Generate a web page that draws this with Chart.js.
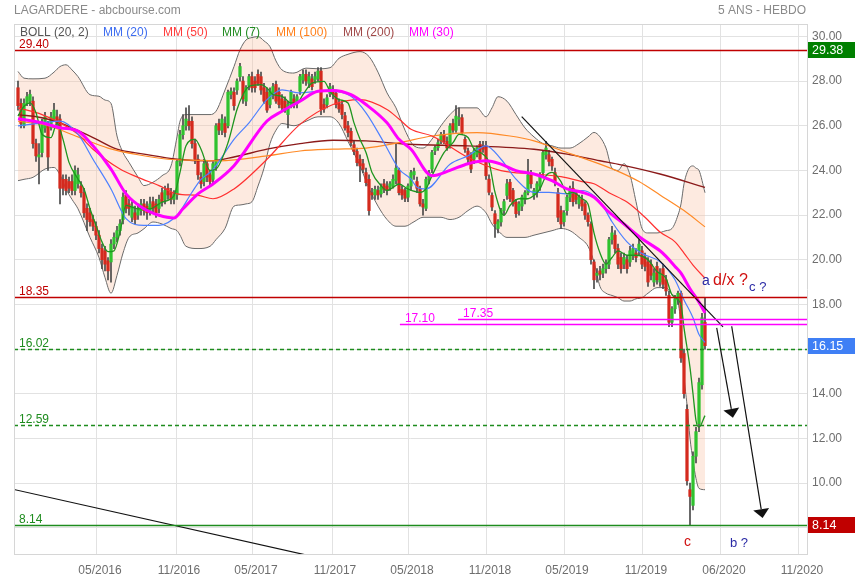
<!DOCTYPE html>
<html><head><meta charset="utf-8">
<script src="https://cdn.jsdelivr.net/npm/chart.js@4.4.0/dist/chart.umd.min.js"></script>
<style>html,body{margin:0;padding:0;background:#fff;overflow:hidden}canvas{display:block}</style>
</head><body>
<canvas id="c" width="855" height="580"></canvas>
<script>
// ---------- DATA (weekly candles, index 0 = first week shown) ----------
const xTickPos = [26.33, 52.67, 78.33, 104.67, 130.33, 156.33, 182, 208.33, 234.33, 260.33];
const xTickLabels = ['05/2016','11/2016','05/2017','11/2017','05/2018','11/2018','05/2019','11/2019','06/2020','11/2020'];
const yTickValues = [8,10,12,14,16,18,20,22,24,26,28,30];

const opens = [
27.7,27.0,26.0,27.0,27.1,27.1,25.2,24.6,24.8,25.9,
26.0,25.9,26.3,26.4,26.3,23.6,23.6,23.5,23.5,23.1,
23.4,23.3,23.0,22.3,22.1,21.8,21.5,21.1,20.5,20.4,
19.95,19.9,20.7,21.0,21.3,21.8,22.9,22.5,21.9,22.1,
22.0,22.2,22.5,22.4,22.2,22.6,22.5,22.3,23.0,22.7,
23.2,23.0,22.7,22.9,24.4,25.6,26.0,26.2,26.2,25.2,
24.5,23.7,23.5,24.3,23.8,23.6,24.2,26.1,25.8,26.1,
26.0,27.4,27.5,27.6,28.2,28.0,27.1,27.8,28.2,28.0,
28.3,28.2,27.7,27.5,26.95,27.4,27.85,27.5,27.2,27.1,
26.5,26.95,27.2,27.0,27.55,28.05,28.3,27.9,28.1,28.05,
28.1,28.45,26.95,26.95,27.45,27.6,27.45,27.0,26.95,26.45,
26.0,25.75,25.15,24.85,24.5,24.3,23.9,23.6,23.0,22.9,
23.1,22.95,23.4,23.3,23.25,23.3,23.55,24.0,23.15,23.1,
22.8,23.3,23.8,23.5,23.17,22.5,22.3,23.6,24.06,24.87,
25.02,25.3,25.6,25.3,25.2,26.1,25.8,26.3,26.36,25.39,
24.87,24.72,24.5,24.72,25.17,25.1,25.1,23.61,22.88,22.06,
21.4,21.69,22.21,22.88,23.47,23.1,22.58,22.2,22.4,22.7,
23.0,23.8,22.9,23.0,23.3,23.9,24.7,24.7,24.5,23.9,
23.0,22.2,21.7,22.2,22.8,23.2,23.0,22.5,22.7,22.5,
22.0,21.6,19.9,19.3,19.5,19.4,19.6,19.8,20.9,21.1,
20.5,20.1,19.8,20.0,19.9,20.2,20.3,20.4,20.4,20.1,
19.9,19.8,19.0,19.7,19.0,19.6,19.1,18.4,17.2,17.8,
18.2,18.5,15.8,13.3,9.7,9.0,11.2,12.65,14.4,17.2];

const highs = [
28.0,27.2,27.2,27.5,27.6,27.3,25.4,25.2,26.3,26.6,
26.2,26.6,27.0,26.7,26.5,23.8,23.8,23.7,23.8,24.2,
24.1,23.5,23.2,22.5,22.3,22.0,21.7,21.3,20.7,20.6,
20.1,20.9,21.2,21.5,21.8,23.0,23.1,22.7,22.6,22.4,
22.5,22.7,22.7,22.6,22.8,22.8,22.7,22.9,23.2,23.3,
23.4,23.2,23.1,24.5,25.8,26.5,26.8,26.9,26.4,25.4,
24.7,23.9,24.5,24.4,24.0,24.4,26.1,26.3,26.5,26.4,
27.6,27.7,27.7,28.1,28.8,28.2,27.8,28.3,28.4,28.2,
28.5,28.4,27.9,27.7,27.7,27.9,28.0,27.7,27.4,27.3,
27.1,27.6,27.4,27.4,28.3,28.5,28.5,28.4,28.3,28.4,
28.6,28.6,27.2,27.4,27.9,27.8,27.6,27.2,27.1,26.6,
26.2,25.9,25.3,25.0,24.7,24.5,24.1,23.8,23.2,23.3,
23.3,23.4,23.6,23.5,23.5,23.8,25.2,24.1,23.3,23.2,
23.4,24.0,24.1,23.7,23.3,22.7,23.7,24.0,24.9,25.1,
25.4,25.7,25.8,25.5,26.1,26.3,26.9,26.8,26.5,25.5,
25.0,24.8,25.0,25.1,25.3,25.3,25.3,23.8,23.0,22.2,
21.8,22.3,22.7,23.6,23.6,23.2,22.7,22.6,22.9,23.1,
24.5,24.0,23.2,23.5,23.9,24.9,25.3,24.9,24.6,24.1,
23.2,22.4,22.2,22.9,23.3,23.5,23.1,22.9,22.9,22.6,
22.1,21.7,20.0,19.6,19.7,19.8,20.0,21.0,21.5,21.3,
20.7,20.3,20.3,20.2,20.6,20.7,20.5,20.9,20.6,20.3,
20.1,20.0,19.6,19.9,19.6,19.8,19.3,18.6,17.9,18.4,
18.6,18.6,16.0,13.5,10.0,11.4,12.5,14.7,17.6,18.3];

const lows = [
26.7,25.9,25.9,26.9,26.9,25.0,24.4,23.4,24.6,25.7,
24.0,25.8,26.2,25.9,22.5,22.9,22.9,23.0,22.9,22.9,
23.2,22.8,21.9,21.3,21.5,21.3,20.9,20.3,19.6,19.5,
19.1,19.0,20.5,20.8,21.1,21.6,22.1,22.0,21.7,21.6,
21.8,22.0,22.0,21.8,22.0,22.1,21.9,22.1,22.4,22.5,
22.7,22.5,22.5,22.7,24.2,25.4,25.8,25.8,25.0,24.3,
23.6,23.2,23.3,23.5,23.3,23.4,24.0,25.6,25.6,25.5,
25.9,27.2,26.7,27.4,28.0,27.0,26.9,27.6,27.5,27.5,
27.8,27.4,27.0,26.6,26.8,27.2,27.0,26.8,26.7,26.6,
25.9,26.8,26.8,26.8,27.4,27.9,27.8,27.7,27.6,27.9,
28.0,26.5,26.6,26.8,27.3,27.2,26.8,26.6,26.3,25.8,
25.5,25.1,24.7,24.2,23.5,23.9,23.3,22.0,22.7,22.7,
22.7,22.8,23.0,22.9,23.1,23.2,23.4,22.9,22.7,22.6,
22.6,23.1,23.6,23.0,22.4,22.0,22.2,23.4,23.9,24.7,
24.9,25.2,25.2,24.9,25.0,25.7,25.7,26.0,25.6,24.8,
24.3,23.9,24.3,24.6,24.4,24.8,23.6,22.9,22.2,21.0,
21.2,21.5,22.0,22.7,22.6,22.4,21.9,22.0,22.2,22.5,
22.9,23.2,22.7,22.8,23.1,23.7,24.5,24.2,24.0,23.3,
21.7,21.4,21.5,22.0,22.6,22.4,22.5,22.3,22.2,21.8,
21.5,19.8,18.7,19.0,19.1,19.2,19.4,19.6,20.7,20.3,
19.6,19.4,19.6,19.4,19.7,20.0,19.9,20.2,19.6,19.5,
18.8,19.1,18.8,18.9,18.8,18.7,18.4,17.0,17.0,17.6,
18.0,15.4,13.8,9.9,8.14,8.8,10.9,12.3,14.2,16.0];

const closes = [
26.9,26.1,27.0,27.3,27.4,25.2,24.65,24.7,26.1,26.4,
24.6,26.4,26.7,26.1,23.2,23.2,23.1,23.2,23.1,24.0,
23.8,23.0,22.1,21.8,21.7,21.5,21.1,20.5,20.0,19.8,
19.5,20.7,21.0,21.3,21.6,22.8,22.3,22.3,22.4,21.8,
22.3,22.5,22.2,22.1,22.5,22.3,22.1,22.7,22.6,23.1,
22.9,22.7,22.9,24.4,25.6,26.0,26.3,26.0,25.2,24.5,
23.8,23.4,24.3,23.7,23.5,24.3,26.0,25.8,26.3,25.7,
27.5,27.55,26.9,28.0,28.65,27.2,27.7,28.2,27.7,27.7,
27.9,27.6,27.1,26.7,27.55,27.75,27.1,26.95,26.8,26.7,
26.95,27.5,26.95,27.3,28.2,28.3,28.0,28.2,27.75,28.2,
28.45,26.75,26.75,27.25,27.75,27.4,26.95,26.75,26.5,25.9,
25.7,25.25,24.85,24.35,24.2,24.05,23.45,22.2,22.9,23.15,
22.9,23.25,23.15,23.1,23.4,23.6,24.1,23.0,22.9,22.75,
23.3,23.9,23.95,23.2,22.5,22.36,23.6,23.9,24.8,25.02,
25.24,25.6,25.3,25.0,25.99,25.8,26.43,26.36,25.69,24.95,
24.5,24.06,24.87,25.02,24.5,24.95,23.76,23.02,22.36,21.61,
21.7,22.21,22.6,23.4,22.73,22.5,22.06,22.5,22.8,23.0,
23.8,23.4,23.1,23.4,23.8,24.8,25.0,24.4,24.2,23.5,
21.9,21.6,22.1,22.8,23.2,22.6,22.7,22.8,22.4,22.0,
21.7,20.0,19.1,19.4,19.35,19.6,19.8,20.9,21.2,20.5,
19.8,19.6,20.1,19.6,20.4,20.5,20.1,20.7,19.8,19.7,
19.0,19.3,19.4,19.1,19.4,18.9,18.6,17.2,17.8,18.25,
18.5,15.6,14.0,10.1,9.4,11.2,12.3,14.5,17.4,16.15];

// Bollinger (20,2) bands
const bbIdx = [0,2,5,9,12,14,16,18,20,24,27,29,31,33,35,37,40,42,45,48,51,53,54,56,60,64,66,69,72,74,76,78,80,82,84,86,88,92,96,100,104,107,110,114,117,120,123,126,129,132,135,138,141,144,147,150,153,156,158,160,163,166,169,172,175,178,181,184,187,190,192,194,196,198,200,202,204,206,208,210,213,216,218,220,221,222,223,224,225,226,227,229];
const bbUpper = [28.43,28.13,28.1,28.13,28.4,28.65,28.73,28.5,28.2,27.39,27.32,27.15,27.0,25.54,24.8,24.36,23.7,23.32,23.47,23.76,24.2,25.5,26.2,26.5,26.5,26.5,26.65,27.6,28.65,29.4,29.84,29.95,29.99,29.8,29.54,28.9,28.5,28.36,28.58,28.55,28.6,29.02,29.2,29.32,29.1,28.4,27.47,26.8,25.8,25.1,25.0,25.4,26.0,26.5,26.8,26.8,26.8,26.4,26.8,27.3,27.1,26.5,25.9,25.5,25.2,25.1,25.0,25.0,25.2,25.5,25.7,25.5,25.0,24.1,24.0,24.3,23.8,22.6,21.4,21.2,21.2,21.3,21.4,22.0,22.5,23.4,23.9,24.15,24.2,24.1,24.0,23.0];
const bbLower = [23.54,23.6,23.69,24.06,24.13,23.8,23.17,22.7,22.28,21.0,20.1,19.2,18.5,19.3,20.3,21.0,21.2,21.39,21.69,21.6,21.4,21.3,21.1,20.6,20.5,20.6,20.9,21.4,22.4,22.45,22.5,22.6,23.3,24.1,25.2,25.8,26.1,26.0,26.2,26.4,26.4,26.1,25.3,24.2,23.2,22.4,21.8,21.5,21.5,21.7,21.9,21.9,21.9,21.8,21.9,22.2,22.4,22.1,21.6,21.3,21.0,21.0,21.0,21.1,21.2,21.3,21.4,21.3,21.0,20.6,19.9,18.8,18.5,18.4,18.3,18.15,18.15,18.25,18.3,18.5,18.75,18.75,18.45,18.1,17.0,14.8,13.5,12.0,11.0,10.2,9.76,9.7];

// Moving averages
const mm7Idx = [0,2,4,6,8,11,13,15,17,20,22,24,26,28,30,32,34,36,40,44,48,52,54,56,59,61,64,66,70,73,75,77,81,83,85,88,91,93,95,98,102,104,107,110,112,114,116,118,121,123,125,127,130,134,136,138,142,145,147,150,152,155,157,159,162,164,167,170,172,174,176,178,181,183,185,188,190,192,194,196,198,200,203,206,210,213,216,218,221,222,224,225,226,227,229];
const mm7 = [26.43,26.87,27.02,26.58,25.62,25.47,26.13,25.39,24.36,23.61,23.17,22.28,21.54,20.8,20.36,20.4,21.24,22.43,22.28,22.28,22.58,22.87,23.91,25.1,25.39,24.95,24.0,24.06,25.24,26.73,27.39,27.76,27.84,27.69,27.39,27.32,27.02,27.02,27.39,27.91,27.99,27.54,27.17,27.02,26.13,25.39,24.8,23.91,23.32,23.1,23.24,23.39,23.17,23.02,23.17,23.76,24.8,25.24,25.61,25.47,24.95,24.72,24.36,23.02,21.99,22.43,22.73,22.73,22.88,23.17,23.76,23.91,23.5,22.95,23.02,22.73,22.5,21.2,20.3,19.8,20.1,20.4,20.2,20.2,20.0,19.47,19.17,18.43,17.98,16.95,15.17,14.0,12.8,12.5,13.02];
const mm20Idx = [0,4,8,14,20,25,31,36,42,47,53,58,61,64,66,72,77,83,88,94,100,105,111,116,122,127,131,133,136,144,150,156,161,166,172,177,183,188,192,195,198,203,208,214,219,222,225,227,229];
const mm20 = [25.99,26.06,26.13,26.21,25.62,24.5,23.17,21.84,21.54,21.54,21.99,23.02,23.6,23.91,24.21,25.39,26.13,27.17,27.61,27.47,27.54,27.54,27.32,26.58,25.24,24.06,23.61,23.25,23.17,24.28,24.65,25.1,24.5,23.61,23.02,23.02,22.95,23.1,22.87,22.4,21.7,20.8,20.28,19.91,19.1,18.2,17.4,16.65,16.3];
const mm30Idx = [0,8,14,20,25,31,36,42,47,52,55,60,65,72,83,88,94,100,105,111,116,123,127,131,138,144,150,156,161,166,172,178,183,188,192,197,202,208,214,216,219,221,224,227,229];
const mm30 = [26.31,26.13,25.91,25.76,25.1,24.06,22.95,22.28,21.99,21.87,22.28,22.95,23.39,24.21,26.21,26.65,27.1,27.54,27.58,27.39,26.95,26.13,25.39,24.95,23.76,24.0,24.3,24.43,24.28,23.99,23.84,23.54,23.17,23.02,22.8,22.13,21.6,20.94,20.4,20.15,19.7,19.4,18.7,18.1,17.62];
const mm50Idx = [0,8,14,20,25,34,40,47,53,60,65,72,83,94,105,114,123,127,131,138,150,161,172,181,188,192,197,203,209,214,219,222,225,229];
const mm50 = [26.8,26.5,26.13,25.62,24.95,24.06,23.69,23.32,22.95,22.88,22.73,23.17,24.5,26.06,26.95,27.17,26.73,26.3,25.84,25.54,24.58,23.99,23.84,23.72,23.5,23.4,23.0,22.58,21.9,21.24,20.8,20.3,19.76,19.17];
const mm100Idx = [0,10,20,30,40,50,60,67,83,94,105,116,127,138,153,164,172,183,194,201,207,214,222,229];
const mm100 = [26.2,26.0,25.5,25.0,24.7,24.5,24.45,24.43,24.65,24.87,24.95,25.0,25.24,25.54,25.69,25.54,25.32,24.8,24.28,23.9,23.5,22.9,22.2,21.47];
const mm200Idx = [0,8,14,25,33,42,53,64,72,83,94,105,116,130,150,172,183,194,201,214,229];
const mm200 = [26.5,26.36,26.13,25.47,24.95,24.73,24.5,24.43,24.6,24.95,25.2,25.35,25.32,25.17,25.1,24.95,24.73,24.43,24.25,23.84,23.24];

// Horizontal levels and price tags
const levelValues = [29.40, 18.35, 16.02, 12.59, 8.14];
const levelLabels = ['29.40','18.35','16.02','12.59','8.14'];
const magentaValues = [17.35, 17.10];
const magentaStartIdx = [146.7, 127.3];
const tagValues = [29.38, 16.15, 8.14];

// Drawn trend lines and arrows (week index, price)
const trendFromIdx = [167.9, -2], trendFromVal = [26.41, 9.73];
const trendToIdx = [235, 100], trendToVal = [16.99, 6.66];
const arrowFromIdx = [232.9, 237.9], arrowFromVal = [16.95, 17.02];
const arrowToIdx = [238.3, 248.2], arrowToVal = [12.92, 8.43];

// Text notes (week index, price)
const noteTexts = ['a', 'd/x ?', 'c ?', 'c', 'b ?'];
const noteIdx = [228, 231.7, 243.7, 222, 237.3];
const noteVal = [18.86, 18.86, 18.59, 7.18, 7.14];

// ---------- STYLE ----------
const FONT = "'Liberation Sans', Arial, sans-serif";
const levelStyle = [
  {color:'#c00000', dash:[]}, {color:'#c00000', dash:[]},
  {color:'#1e8c1e', dash:[4,3]}, {color:'#1e8c1e', dash:[4,3]}, {color:'#1e8c1e', dash:[]}
];
const tagStyle = ['#008000', '#3f7ff5', '#c00000'];
const noteStyle = [
  {c:'#2b2ba6', s:14}, {c:'#d01010', s:16}, {c:'#2b2ba6', s:13}, {c:'#d01010', s:14}, {c:'#2b2ba6', s:13}
];
const legendItems = [
  ['BOLL (20, 2)', '#555555', 20], ['MM (20)', '#3c6cf0', 103], ['MM (50)', '#ff3b3b', 163],
  ['MM (7)', '#228b22', 222], ['MM (100)', '#ff7f1a', 276], ['MM (200)', '#a04848', 343], ['MM (30)', '#ff00ff', 409]
];

function pts(idx, vals){ return idx.map((x,k)=>({x:x, y:vals[k]})); }
function maLine(idx, vals, color, width, order){
  return {type:'line', data:pts(idx, vals), borderColor:color, borderWidth:width, pointRadius:0,
          fill:false, cubicInterpolationMode:'monotone', order:order};
}

const overlay = {
  id:'overlay',
  afterDatasetsDraw(chart){
    const c = chart.ctx, a = chart.chartArea, xs = chart.scales.x, ys = chart.scales.y;
    c.save();
    c.beginPath(); c.rect(a.left, a.top, a.right-a.left, a.bottom-a.top); c.clip();
    c.strokeStyle = '#111'; c.lineWidth = 1.2; c.setLineDash([]);
    for (let k=0;k<trendFromIdx.length;k++){
      c.beginPath();
      c.moveTo(xs.getPixelForValue(trendFromIdx[k]), ys.getPixelForValue(trendFromVal[k]));
      c.lineTo(xs.getPixelForValue(trendToIdx[k]), ys.getPixelForValue(trendToVal[k]));
      c.stroke();
    }
    c.font = '12px ' + FONT; c.textBaseline = 'alphabetic'; c.textAlign = 'left';
    levelValues.forEach((v,k)=>{
      const py = Math.round(ys.getPixelForValue(v)) + 0.5;
      c.strokeStyle = levelStyle[k].color; c.lineWidth = 1.3; c.setLineDash(levelStyle[k].dash);
      c.beginPath(); c.moveTo(a.left, py); c.lineTo(a.right, py); c.stroke();
      c.fillStyle = levelStyle[k].color;
      c.fillText(levelLabels[k], a.left + 5, py - 3);
    });
    c.setLineDash([]);
    magentaValues.forEach((v,k)=>{
      const py = Math.round(ys.getPixelForValue(v)) + 0.5;
      const px = xs.getPixelForValue(magentaStartIdx[k]);
      c.strokeStyle = '#ff00ff'; c.lineWidth = 1.3;
      c.beginPath(); c.moveTo(px, py); c.lineTo(a.right, py); c.stroke();
      c.fillStyle = '#ff00ff';
      c.fillText(v.toFixed(2), px + 5, py - 3);
    });
    c.strokeStyle = '#111'; c.fillStyle = '#111'; c.lineWidth = 1.2;
    for (let k=0;k<arrowFromIdx.length;k++){
      const x0 = xs.getPixelForValue(arrowFromIdx[k]), y0 = ys.getPixelForValue(arrowFromVal[k]);
      const x1 = xs.getPixelForValue(arrowToIdx[k]), y1 = ys.getPixelForValue(arrowToVal[k]);
      const L = Math.hypot(x1-x0, y1-y0), ux = (x1-x0)/L, uy = (y1-y0)/L;
      const bx = x1 - ux*9, by = y1 - uy*9;
      c.beginPath(); c.moveTo(x0,y0); c.lineTo(bx,by); c.stroke();
      c.beginPath(); c.moveTo(x1,y1); c.lineTo(bx - uy*8, by + ux*8); c.lineTo(bx + uy*8, by - ux*8); c.closePath(); c.fill();
    }
    noteTexts.forEach((t,k)=>{
      c.font = noteStyle[k].s + 'px ' + FONT; c.fillStyle = noteStyle[k].c;
      c.fillText(t, xs.getPixelForValue(noteIdx[k]), ys.getPixelForValue(noteVal[k]));
    });
    c.font = '12px ' + FONT;
    legendItems.forEach(it=>{ c.fillStyle = it[1]; c.fillText(it[0], it[2], a.top + 12); });
    c.restore();
  },
  afterDraw(chart){
    const c = chart.ctx, a = chart.chartArea, ys = chart.scales.y;
    c.save();
    c.strokeStyle = '#d6d6d6'; c.lineWidth = 1;
    c.beginPath(); c.moveTo(a.left + 0.5, a.top); c.lineTo(a.left + 0.5, a.bottom); c.stroke();
    c.beginPath(); c.moveTo(a.left, a.top + 0.5); c.lineTo(a.right, a.top + 0.5); c.stroke();
    c.font = '12.5px ' + FONT; c.textBaseline = 'middle'; c.textAlign = 'left';
    tagValues.forEach((v,k)=>{
      const py = Math.round(ys.getPixelForValue(v));
      c.fillStyle = tagStyle[k]; c.fillRect(a.right + 1, py - 8, 855 - a.right - 1, 16);
      c.fillStyle = '#ffffff'; c.fillText(v.toFixed(2), a.right + 5, py + 1);
    });
    c.textBaseline = 'alphabetic';
    c.font = '12px ' + FONT; c.fillStyle = '#8a8a8a';
    c.textAlign = 'left'; c.fillText('LAGARDERE - abcbourse.com', 14, 14);
    c.textAlign = 'right'; c.fillText('5 ANS - HEBDO', 806, 14);
    c.restore();
  }
};

const bodyColors = opens.map((o,i)=> closes[i] >= o ? '#2fc22f' : '#d42a1e');

new Chart(document.getElementById('c').getContext('2d'), {
  type:'bar',
  data:{ datasets:[
    {type:'line', data:pts(bbIdx, bbUpper), borderColor:'#6a6a6a', borderWidth:1, pointRadius:0,
     fill:'+1', backgroundColor:'rgba(250,198,168,0.36)', cubicInterpolationMode:'monotone', order:30},
    {type:'line', data:pts(bbIdx, bbLower), borderColor:'#6a6a6a', borderWidth:1, pointRadius:0,
     fill:false, cubicInterpolationMode:'monotone', order:29},
    {type:'bar', data:opens.map((o,i)=>({x:i, y:[lows[i], highs[i]]})), backgroundColor:'#4a4a4a',
     barThickness:1, grouped:false, order:21},
    {type:'bar', data:opens.map((o,i)=>({x:i, y:[o, closes[i]]})), backgroundColor:bodyColors,
     barThickness:2.6, grouped:false, minBarLength:1, order:20},
    maLine(mm200Idx, mm200, '#8b1a1a', 1.4, 9),
    maLine(mm100Idx, mm100, '#ff8a26', 1.2, 8),
    maLine(mm50Idx, mm50, '#ff3030', 1.2, 7),
    maLine(mm20Idx, mm20, '#4d80ff', 1.2, 6),
    maLine(mm7Idx, mm7, '#1f951f', 1.3, 5),
    maLine(mm30Idx, mm30, '#ff00ff', 3, 4)
  ]},
  options:{
    responsive:false, animation:false, devicePixelRatio:1,
    layout:{padding:{left:14, top:24, right:0, bottom:0}},
    plugins:{legend:{display:false}, tooltip:{enabled:false}},
    scales:{
      x:{type:'linear', min:-4/3, max:263, offset:false,
         grid:{color:'#e2e2e2', drawTicks:false, offset:false},
         border:{color:'#d6d6d6'},
         afterBuildTicks:s=>{ s.ticks = xTickPos.map(v=>({value:v})); },
         afterFit:s=>{ s.height = 26; },
         ticks:{autoSkip:false, maxRotation:0, padding:9, labelOffset:3, color:'#6e6e6e',
                font:{family:FONT, size:12}, callback:(v,i)=>xTickLabels[i]}},
      y:{type:'linear', position:'right', min:6.822, max:30.556,
         grid:{color:'#e2e2e2', drawTicks:false},
         border:{color:'#d6d6d6'},
         afterBuildTicks:s=>{ s.ticks = yTickValues.map(v=>({value:v})); },
         afterFit:s=>{ s.width = 48; },
         ticks:{padding:5, color:'#6e6e6e', font:{family:FONT, size:12}, callback:v=>Number(v).toFixed(2)}}
    }
  },
  plugins:[overlay]
});
</script>
</body></html>
